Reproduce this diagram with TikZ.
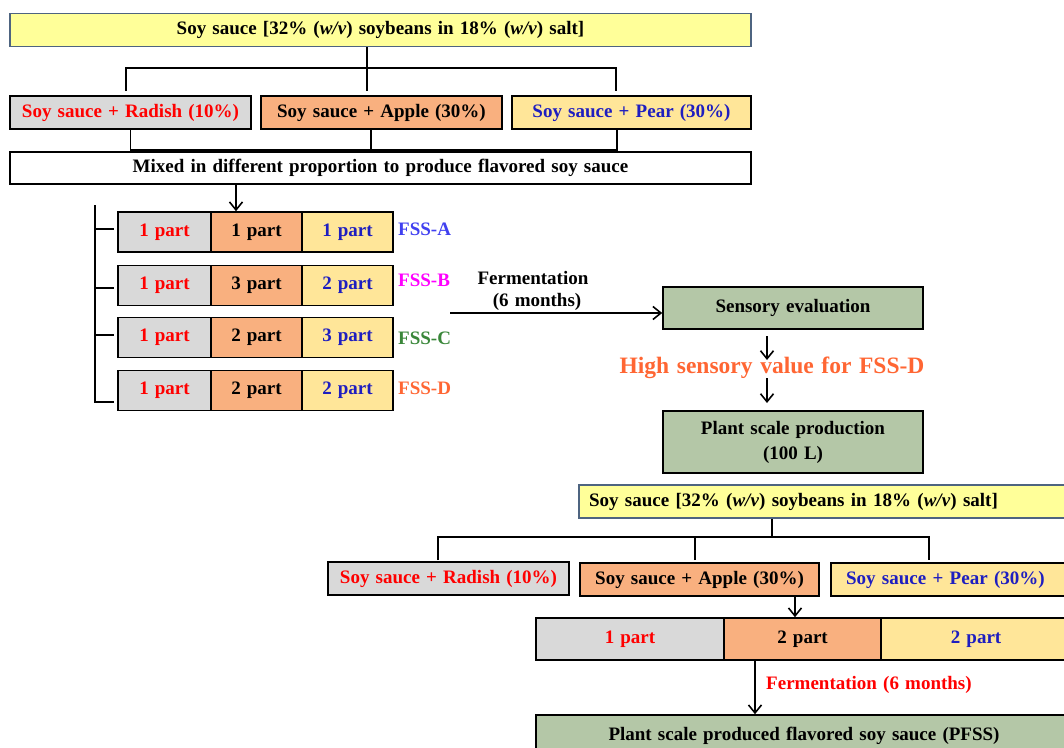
\documentclass[tikz,border=0pt]{standalone}
\usepackage{fontspec}
\setmainfont[WordSpace=1.3]{Liberation Serif}
\usetikzlibrary{arrows.meta}
\definecolor{ylw}{HTML}{FFFF99}
\definecolor{gry}{HTML}{D9D9D9}
\definecolor{org}{HTML}{F9B07F}
\definecolor{lyl}{HTML}{FFE699}
\definecolor{grn}{HTML}{B4C7A7}
\definecolor{slate}{HTML}{4E6480}
\definecolor{tred}{HTML}{FF0000}
\definecolor{tblue}{HTML}{1E1EC0}
\definecolor{fssa}{HTML}{4040F0}
\definecolor{fssb}{HTML}{FF00FF}
\definecolor{fssc}{HTML}{3A873A}
\definecolor{fssd}{HTML}{FF6633}
\begin{document}
\begin{tikzpicture}[x=1pt,y=-1pt,
  box/.style={draw=black, line width=1.6pt, inner sep=0pt, anchor=center,
    font=\bfseries\fontsize{19}{22}\selectfont},
  cell/.style={box, minimum height=40pt},
  conn/.style={line width=1.6pt},
  arr/.style={line width=1.6pt, -{Straight Barb[length=8pt,width=13pt]}},
  lbl/.style={inner sep=0pt, font=\bfseries\fontsize{19}{22}\selectfont}]
\path[use as bounding box, clip] (0,0) rectangle (1064,747);

% ---------- upper part ----------
\node[box, draw=slate, fill=ylw, minimum width=741pt, minimum height=33pt] (top1) at (380.5,30)
  {Soy sauce [32\% (\textit{w/v}) soybeans in 18\% (\textit{w/v}) salt]};
\node[box, fill=gry, minimum width=241pt, minimum height=33pt, text=tred] (rad1) at (130.5,112.5) {Soy sauce + Radish (10\%)};
\node[box, fill=org, minimum width=241pt, minimum height=33pt] (app1) at (381.5,112.5) {Soy sauce + Apple (30\%)};
\node[box, fill=lyl, minimum width=239pt, minimum height=33pt, text=tblue] (pear1) at (631.5,112.5) {Soy sauce + Pear (30\%)};
\node[box, fill=white, minimum width=741pt, minimum height=32pt] (mix) at (380.5,168)
  {Mixed in different proportion to produce flavored soy sauce};

\coordinate (h1) at (367,68);
\coordinate (d1a) at (126,91);
\coordinate (d1b) at (367,91);
\coordinate (d1c) at (616,91);
\draw[conn] (top1.south -| h1) -- (h1);
\draw[conn] (d1a) |- (h1) -| (d1c);
\draw[conn] (h1) -- (d1b);

\coordinate (u1a) at (130.5,150);
\coordinate (u1b) at (371,150);
\coordinate (u1c) at (617,150);
\draw[conn] (rad1.south) -- (u1a) -- (u1c) -- (pear1.south -| u1c);
\draw[conn] (app1.south -| u1b) -- (u1b);

% mixing rows
\foreach \r/\y/\g/\o/\w in {A/232/1/1/1, B/285.5/1/3/2, C/337.5/1/2/3, D/390.5/1/2/2}{
  \node[cell, fill=gry, minimum width=93pt, text=tred] (g\r) at (164.5,\y) {\g\ part};
  \node[cell, fill=org, minimum width=91pt] (o\r) at (256.5,\y) {\o\ part};
  \node[cell, fill=lyl, minimum width=91pt, text=tblue] (y\r) at (347.5,\y) {\w\ part};
}
\node[lbl, anchor=west, text=fssa] (fa) at (398,229) {FSS-A};
\node[lbl, anchor=west, text=fssb] (fb) at (398,280) {FSS-B};
\node[lbl, anchor=west, text=fssc] (fc) at (398,338) {FSS-C};
\node[lbl, anchor=west, text=fssd] (fd) at (398,388) {FSS-D};

\coordinate (mx) at (236,184);
\draw[arr] (mix.south -| mx) -- (gA.north -| mx);

\coordinate (br0) at (95,205);
\coordinate (br1) at (95,229);
\coordinate (br2) at (95,288);
\coordinate (br3) at (95,335);
\coordinate (br4) at (95,402);
\draw[conn] (br0) -- (br4) -- ([xshift=-3pt]gD.west |- br4);
\draw[conn] (br1) -- ([xshift=-3pt]gA.west |- br1);
\draw[conn] (br2) -- ([xshift=-3pt]gB.west |- br2);
\draw[conn] (br3) -- ([xshift=-3pt]gC.west |- br3);

% fermentation and evaluation
\node[box, fill=grn, minimum width=260pt, minimum height=42pt] (sens) at (793,308) {Sensory evaluation};
\coordinate (fs) at (450,313);
\draw[arr] (fs) -- (sens.west |- fs);
\node[lbl] (ferm) at (533,278) {Fermentation};
\node[lbl] (six) at (537,302) {(6 months)};

\node[lbl, text=fssd, font=\bfseries\fontsize{23.5}{26}\selectfont] (high) at (772,368) {High sensory value for FSS-D};
\node[box, fill=grn, minimum width=260pt, minimum height=62pt, align=center] (plant) at (793,442)
  {Plant scale production\\[3pt](100 L)};
\coordinate (a1s) at (767,336);
\coordinate (a1e) at (767,360);
\coordinate (a2s) at (767,378);
\coordinate (a2e) at (767,403);
\draw[arr] (a1s) -- (a1e);
\draw[arr] (a2s) -- (a2e);

% ---------- lower part ----------
\node[box, draw=slate, fill=ylw, text width=471pt, inner xsep=10pt, align=left, minimum height=33pt] (top2) at (824.5,501.5)
  {Soy sauce [32\% (\textit{w/v}) soybeans in 18\% (\textit{w/v}) salt]};
\node[box, fill=gry, minimum width=241pt, minimum height=33pt, text=tred] (rad2) at (448.5,578.5) {Soy sauce + Radish (10\%)};
\node[box, fill=org, minimum width=239pt, minimum height=33pt] (app2) at (699.5,579.5) {Soy sauce + Apple (30\%)};
\node[box, fill=lyl, text width=214pt, inner xsep=15pt, align=left, minimum height=33pt, text=tblue] (pear2) at (953,579.5) {Soy sauce + Pear (30\%)};

\coordinate (h2) at (772,537);
\coordinate (d2a) at (438,560);
\coordinate (d2b) at (695,560);
\coordinate (d2c) at (929,560);
\draw[conn] (top2.south -| h2) -- (h2);
\draw[conn] (d2a) |- (h2) -| (d2c);
\draw[conn] (d2b) -- (d2b |- h2);

\node[cell, fill=gry, minimum width=188pt, minimum height=42pt, text=tred] (p2g) at (630,639) {1 part};
\node[cell, fill=org, minimum width=157pt, minimum height=42pt] (p2o) at (802.5,639) {2 part};
\node[cell, fill=lyl, minimum width=190pt, minimum height=42pt, text=tblue] (p2y) at (976,639) {2 part};

\coordinate (ax) at (795,596);
\draw[arr] (app2.south -| ax) -- (p2o.north -| ax);

\node[box, fill=grn, minimum width=536pt, minimum height=42pt] (pfss) at (804,736)
  {Plant scale produced flavored soy sauce (PFSS)};
\coordinate (fx) at (755,660);
\draw[arr] (p2o.south -| fx) -- (pfss.north -| fx);
\node[lbl, anchor=west, text=tred] (ferm2) at (766,685) {Fermentation (6 months)};
\end{tikzpicture}
\end{document}
